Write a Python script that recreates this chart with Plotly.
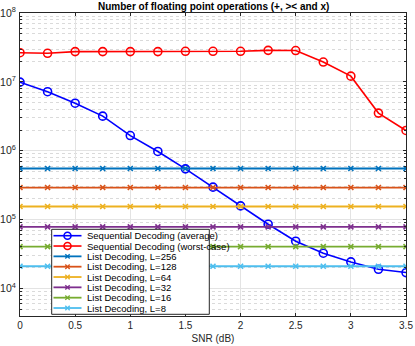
import plotly.graph_objects as go

# datos
snr = [0, 0.25, 0.5, 0.75, 1, 1.25, 1.5, 1.75, 2, 2.25, 2.5, 2.75, 3, 3.25, 3.5]

seq_avg = [9.9e6, 7.2e6, 4.9e6, 3.18e6, 1.66e6, 9.75e5, 5.46e5, 2.96e5, 1.58e5,
           8.57e4, 4.85e4, 3.25e4, 2.43e4, 1.9e4, 1.7e4]
seq_worst = [2.65e7, 2.6e7, 2.75e7, 2.75e7, 2.75e7, 2.75e7, 2.78e7, 2.78e7, 2.78e7,
             2.87e7, 2.85e7, 1.94e7, 1.21e7, 3.52e6, 1.97e6]

list_L = [256, 128, 64, 32, 16, 8]
list_ops = [5.52e5, 2.92e5, 1.55e5, 7.83e4, 4.05e4, 2.1e4]
list_colors = ['#0072BD', '#D95319', '#EDB120', '#7E2F8E', '#77AC30', '#4DBEEE']

y_tickvals = [1e4, 1e5, 1e6, 1e7, 1e8]
y_ticktext = ['10<sup>4</sup>', '10<sup>5</sup>', '10<sup>6</sup>', '10<sup>7</sup>', '10<sup>8</sup>']
# rejilla menor del eje log (2..9 en cada decada)
y_minorvals = [m * 10 ** e for e in range(3, 8) for m in range(2, 10)]

# area del grafico (px) para convertir la leyenda a coordenadas paper
W, H = 415, 346
ML, MR, MT, MB = 20, 9, 13, 30
PW, PH = W - ML - MR, H - MT - MB


def px_x(p):
    return (p - ML) / PW


def px_y(p):
    return (H - MB - p) / PH


fig = go.Figure()

entries = []  # (nombre, color, simbolo, ancho)

fig.add_trace(go.Scatter(
    x=snr, y=seq_avg, mode='lines+markers', name='Sequential Decoding (average)',
    line=dict(color='#0000FF', width=1.6),
    marker=dict(symbol='circle-open', size=8, color='#0000FF', line=dict(width=1.6))
))
entries.append(('Sequential Decoding (average)', '#0000FF', 'o', 1.6))
fig.add_trace(go.Scatter(
    x=snr, y=seq_worst, mode='lines+markers', name='Sequential Decoding (worst-case)',
    line=dict(color='#FF0000', width=1.6),
    marker=dict(symbol='circle-open', size=8, color='#FF0000', line=dict(width=1.6))
))
entries.append(('Sequential Decoding (worst-case)', '#FF0000', 'o', 1.6))

for L, ops, c in zip(list_L, list_ops, list_colors):
    fig.add_trace(go.Scatter(
        x=snr, y=[ops] * len(snr), mode='lines+markers', name=f'List Decoding, L={L}',
        line=dict(color=c, width=1.8),
        marker=dict(symbol='x-thin-open', size=5, color=c, line=dict(width=1.6, color=c))
    ))
    entries.append((f'List Decoding, L={L}', c, 'x', 1.8))

# leyenda dibujada a mano (la de plotly no permite filas tan juntas)
shapes = [dict(type='rect', xref='paper', yref='paper', layer='above',
               x0=px_x(51.7), x1=px_x(209.3), y0=px_y(314.3), y1=px_y(229.3),
               fillcolor='white', line=dict(color='#262626', width=1))]
annotations = []
row0, step = 235.7, 10.33
for i, (name, c, sym, w) in enumerate(entries):
    yy = px_y(row0 + i * step)
    shapes.append(dict(type='line', xref='paper', yref='paper', layer='above',
                       x0=px_x(53.5), x1=px_x(81.5), y0=yy, y1=yy,
                       line=dict(color=c, width=w)))
    xc = px_x(67.5)
    if sym == 'o':
        shapes.append(dict(type='circle', xref='paper', yref='paper', layer='above',
                           xsizemode='pixel', ysizemode='pixel', xanchor=xc, yanchor=yy,
                           x0=-3.5, x1=3.5, y0=-3.5, y1=3.5,
                           line=dict(color=c, width=1.6)))
    else:
        for s in (1, -1):
            shapes.append(dict(type='line', xref='paper', yref='paper', layer='above',
                               xsizemode='pixel', ysizemode='pixel', xanchor=xc, yanchor=yy,
                               x0=-2.2, x1=2.2, y0=-2.2 * s, y1=2.2 * s,
                               line=dict(color=c, width=1.4)))
    annotations.append(dict(text=name, xref='paper', yref='paper', x=px_x(84.5), y=yy,
                            xanchor='left', yanchor='middle', showarrow=False,
                            font=dict(size=9.5, color='black')))

# titulo
annotations.append(dict(text='<b>Number of floating point operations (+, &gt;&lt; and x)</b>',
                        xref='paper', yref='paper', x=0.5, y=1, xanchor='center',
                        yanchor='bottom', showarrow=False, yshift=-1,
                        font=dict(size=10, color='black')))

fig.update_layout(
    width=W, height=H,
    margin=dict(l=ML, r=MR, t=MT, b=MB),
    paper_bgcolor='white', plot_bgcolor='white',
    font=dict(family='Liberation Sans, Arial, sans-serif', size=10, color='#262626'),
    showlegend=False,
    shapes=shapes,
    annotations=annotations,
    xaxis=dict(
        title=dict(text='SNR (dB)', standoff=4, font=dict(size=10)),
        range=[0, 3.5], tick0=0, dtick=0.5, automargin=False,
        showgrid=True, gridcolor='#E3E3E3', gridwidth=1,
        ticks='inside', ticklen=3, tickcolor='#262626',
        showline=True, linecolor='#262626', mirror='ticks', zeroline=False,
    ),
    yaxis=dict(
        type='log', range=[3.6, 8], automargin=False,
        tickmode='array', tickvals=y_tickvals, ticktext=y_ticktext,
        showgrid=True, gridcolor='#E3E3E3', gridwidth=1,
        tickfont=dict(size=10.5),
        ticks='inside', ticklen=3, tickcolor='#262626', ticklabelstandoff=1,
        showline=True, linecolor='#262626', mirror='ticks', zeroline=False,
        minor=dict(tickmode='array', tickvals=y_minorvals,
                   showgrid=True, gridcolor='#DADADA', griddash='dot',
                   ticks='inside', ticklen=2, tickcolor='#262626'),
    ),
)

# quitar el margen por defecto del body para que la figura quede en 0,0
fig.write_html("out.html", config={'displayModeBar': False},
               post_script="document.body.style.margin='0';")
